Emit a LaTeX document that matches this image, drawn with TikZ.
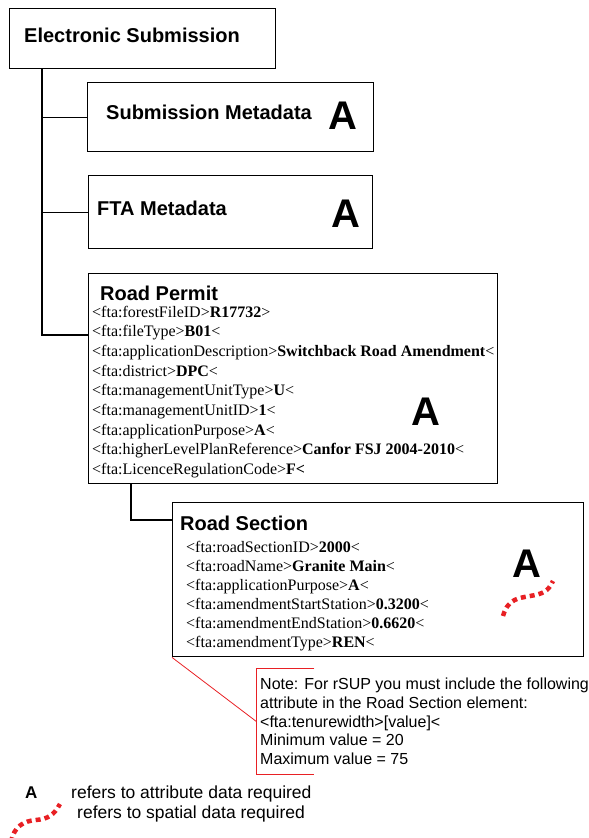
\documentclass[tikz,border=0pt]{standalone}
\usepackage{fontspec}
\setmainfont{Liberation Serif}
\setsansfont{Liberation Sans}
\definecolor{sred}{RGB}{232,32,36}
\begin{document}
\begin{tikzpicture}[x=1pt,y=-1pt,
  box/.style={draw=black, line width=1.4pt, inner sep=0pt, anchor=north west},
  conn/.style={draw=black, line width=1.4pt},
  ttl/.style={anchor=base west, inner sep=0pt, font=\sffamily\bfseries\fontsize{20}{24}\selectfont},
  biga/.style={anchor=base, inner sep=0pt, font=\sffamily\bfseries\fontsize{40}{44}\selectfont},
  rl/.style={anchor=base west, inner sep=0pt, font=\rmfamily\fontsize{16}{19}\selectfont},
  nl/.style={anchor=base west, inner sep=0pt, font=\sffamily\fontsize{16}{19}\selectfont},
  lg/.style={anchor=base west, inner sep=0pt, font=\sffamily\fontsize{17.5}{20}\selectfont},
  spatial/.style={draw=sred, line width=4.5pt, dash pattern=on 5pt off 4pt}
]
\useasboundingbox (0,0) rectangle (589,838);

% boxes
\node[box, minimum width=266pt, minimum height=60pt] (es) at (9,8) {};
\node[box, minimum width=286pt, minimum height=69pt] (sm) at (87,82) {};
\node[box, minimum width=284pt, minimum height=73pt] (fta) at (88,175) {};
\node[box, minimum width=409pt, minimum height=210pt] (rp) at (88,273) {};
\node[box, minimum width=411pt, minimum height=154pt] (rs) at (172,502) {};
\node[inner sep=0pt, minimum width=58pt, minimum height=106pt, anchor=north west] (nb) at (256,668) {};

% titles
\node[ttl] (est) at (24,42) {Electronic Submission};
\node[ttl] (smt) at (106,119) {Submission Metadata};
\node[biga] (sma) at (343,129.5) {A};
\node[ttl] (ftat) at (97,215) {FTA Metadata};
\node[biga] (ftaa) at (346,227) {A};
\node[ttl] (rpt) at (100,300.5) {Road Permit};
\node[biga] (rpa) at (426,425) {A};
\node[ttl] (rst) at (180,530) {Road Section};
\node[biga] (rsa) at (527,577) {A};

% connectors
\coordinate (trunk) at ([xshift=33pt]es.south west);
\draw[conn] (trunk) |- ([yshift=-62pt]rp.north west);
\draw[conn] (sm.west) -- (sm.west -| trunk);
\draw[conn] (fta.west) -- (fta.west -| trunk);
\draw[conn] ([xshift=43pt]rp.south west) |- ([yshift=-18pt]rs.north west);

% road permit lines
\node[rl] (rp1) at (92,317) {<fta:forestFileID>\textbf{R17732}>};
\node[rl] (rp2) at (92,336.7) {<fta:fileType>\textbf{B01}<};
\node[rl] (rp3) at (92,356.4) {<fta:applicationDescription>\textbf{Switchback Road Amendment}<};
\node[rl] (rp4) at (92,376.1) {<fta:district>\textbf{DPC}<};
\node[rl] (rp5) at (92,395.8) {<fta:managementUnitType>\textbf{U}<};
\node[rl] (rp6) at (92,415.5) {<fta:managementUnitID>\textbf{1}<};
\node[rl] (rp7) at (92,435.2) {<fta:applicationPurpose>\textbf{A}<};
\node[rl] (rp8) at (92,454.9) {<fta:higherLevelPlanReference>\textbf{Canfor FSJ 2004-2010}<};
\node[rl] (rp9) at (92,474.6) {<fta:LicenceRegulationCode>\textbf{F<}};

% road section lines
\node[rl] (rs1) at (186,552.5) {<fta:roadSectionID>\textbf{2000}<};
\node[rl] (rs2) at (186,571.5) {<fta:roadName>\textbf{Granite Main}<};
\node[rl] (rs3) at (186,590.5) {<fta:applicationPurpose>\textbf{A}<};
\node[rl] (rs4) at (186,609.5) {<fta:amendmentStartStation>\textbf{0.3200}<};
\node[rl] (rs5) at (186,628.5) {<fta:amendmentEndStation>\textbf{0.6620}<};
\node[rl] (rs6) at (186,647.5) {<fta:amendmentType>\textbf{REN}<};

% spatial symbol in road section
\draw[spatial] (503,616) .. controls (508,598) and (520,598) .. (530,596) .. controls (542,594) and (548,592) .. (553,581);

% note callout
\draw[sred, line width=0.8pt] (rs.south west) -- (nb.west);
\draw[sred, line width=0.8pt] (nb.north east) -- (nb.north west) -- (nb.south west) -- (nb.south east);
\node[nl] (n1) at (260,689) {Note: For rSUP you must include the following};
\node[nl] (n2) at (260,708) {attribute in the Road Section element:};
\node[nl] (n3) at (260,727) {<fta:tenurewidth>[value]<};
\node[nl] (n4) at (260,745.5) {Minimum value = 20};
\node[nl] (n5) at (260,764) {Maximum value = 75};

% legend
\node[anchor=base west, inner sep=0pt, font=\sffamily\bfseries\fontsize{17}{20}\selectfont] (lga) at (25,798) {A};
\node[lg] (lg1) at (71,798) {refers to attribute data required};
\node[lg] (lg2) at (77,818) {refers to spatial data required};
\draw[spatial] (11,842) .. controls (14,826) and (24,821) .. (36,820) .. controls (48,819) and (54,815) .. (60,804);
\end{tikzpicture}
\end{document}
